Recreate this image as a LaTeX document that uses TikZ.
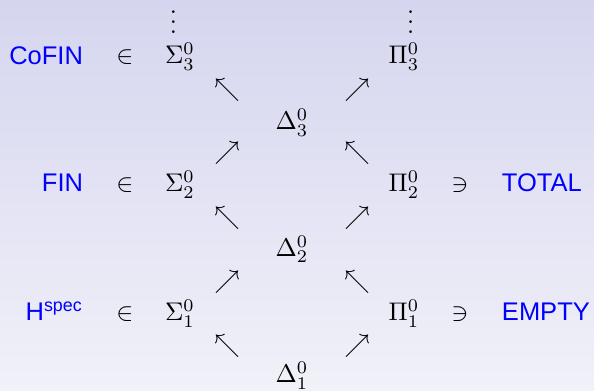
\documentclass[tikz,border=0pt]{standalone}
\usepackage{fontspec}
\usepackage{amssymb}
\newfontfamily\arialf{Liberation Sans}
\definecolor{bgtop}{RGB}{213,213,239}
\definecolor{bgbot}{RGB}{241,241,249}
\definecolor{setblue}{RGB}{0,0,255}
\newcommand{\myvdots}{\vbox{\baselineskip=4pt \lineskiplimit=0pt \hbox{.}\hbox{.}\hbox{.}}}
\tikzset{
  lbl/.style={inner sep=0pt, outer sep=0pt, font=\arialf, text=setblue},
  mth/.style={inner sep=0pt, outer sep=0pt, anchor=base},
}
\begin{document}
\begin{tikzpicture}[x=0.39216pt, y=-0.39216pt]
\shade[top color=bgtop, bottom color=bgbot] (0,0) rectangle (594,391);
\useasboundingbox (0,0) rectangle (594,391);
% vertical dots
\node[mth] (vs) at (173.3,33.7) {\myvdots};
\node[mth] (vp) at (410.7,33.7) {\myvdots};
% left labels
\node[lbl, anchor=base east] (cofin) at (83,64.5) {CoFIN};
\node[lbl, anchor=base east] (fin) at (83,192) {FIN};
\node[lbl, anchor=base east] (hspec) at (83,321) {H\textsuperscript{spec}};
% membership
\node[mth] (in3) at (125,64) {$\in$};
\node[mth] (in2) at (125,192) {$\in$};
\node[mth] (in1) at (125,321) {$\in$};
% Sigma
\node[mth] (s3) at (180,64) {$\Sigma^0_3$};
\node[mth] (s2) at (180,192) {$\Sigma^0_2$};
\node[mth] (s1) at (180,321) {$\Sigma^0_1$};
% Pi
\node[mth] (p3) at (404,64) {$\Pi^0_3$};
\node[mth] (p2) at (404,192) {$\Pi^0_2$};
\node[mth] (p1) at (404,321) {$\Pi^0_1$};
% Delta
\node[mth] (d3) at (292,130) {$\Delta^0_3$};
\node[mth] (d2) at (292,256.5) {$\Delta^0_2$};
\node[mth] (d1) at (292,383) {$\Delta^0_1$};
% ni
\node[mth] (ni2) at (460,192) {$\ni$};
\node[mth] (ni1) at (460,321) {$\ni$};
% right labels
\node[lbl, anchor=base west] (total) at (502,192) {TOTAL};
\node[lbl, anchor=base west] (empty) at (502,321) {EMPTY};
% arrows (glyphs)
\node[mth] (al1) at (227,96.5) {$\nwarrow$};
\node[mth] (al2) at (227,160) {$\nearrow$};
\node[mth] (al3) at (227,225) {$\nwarrow$};
\node[mth] (al4) at (227,288.5) {$\nearrow$};
\node[mth] (al5) at (227,353) {$\nwarrow$};
\node[mth] (ar1) at (357,96.5) {$\nearrow$};
\node[mth] (ar2) at (357,160) {$\nwarrow$};
\node[mth] (ar3) at (357,225) {$\nearrow$};
\node[mth] (ar4) at (357,288.5) {$\nwarrow$};
\node[mth] (ar5) at (357,353) {$\nearrow$};
\end{tikzpicture}
\end{document}
